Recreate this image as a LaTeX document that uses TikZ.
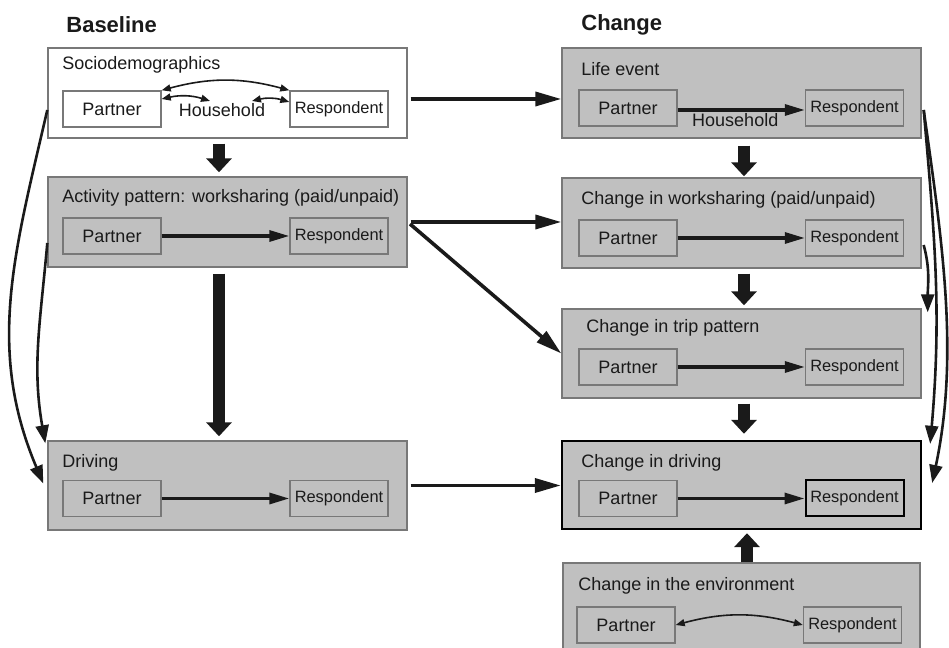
\documentclass[tikz,border=0pt]{standalone}
\usepackage{fontspec}
\setmainfont{Liberation Sans}
\usetikzlibrary{positioning,calc,arrows.meta}

\definecolor{boxgray}{RGB}{192,192,192}
\definecolor{edgegray}{RGB}{120,120,120}
\definecolor{ink}{RGB}{26,26,26}

\tikzset{
  panel/.style={draw=edgegray, line width=0.7pt, fill=boxgray, minimum width=179.5pt, minimum height=45pt, inner sep=0pt},
  inbox/.style={draw=edgegray, line width=0.7pt, minimum width=49pt, minimum height=18pt, inner sep=0pt, text=ink, font=\fontsize{9}{10}\selectfont},
  resp/.style={inbox, font=\fontsize{8.2}{9}\selectfont},
  title/.style={anchor=west, inner sep=0pt, text=ink, font=\fontsize{9}{10}\selectfont},
  heading/.style={anchor=west, inner sep=0pt, text=ink, font=\fontsize{11}{13}\selectfont\bfseries},
  pr/.style={draw=ink, line width=1.6pt, -{Triangle[length=10pt,width=5.5pt]}},
  link/.style={draw=ink, line width=1.8pt, -{Triangle[length=13pt,width=7pt]}, shorten <=1.5pt},
  fat/.style={draw=ink, line width=6pt, -{Triangle[length=7pt,width=12.5pt]}},
  bow/.style={draw=ink, line width=1.3pt, -{Triangle[length=9pt,width=6.5pt]}},
  twin/.style={draw=ink, line width=0.8pt, {Triangle[length=4.5pt,width=3.5pt]}-{Triangle[length=4.5pt,width=3.5pt]}},
}

\begin{document}
\begin{tikzpicture}[x=0.5pt,y=0.5pt]
    \useasboundingbox (0,0) rectangle (949,648);
    \clip (0,0) rectangle (949,648);

    % Column headings
    \node[heading] (hbase) at (66,623) {Baseline};
    \node[heading] (hchange) at (581,623) {Change};

    % Baseline column
    \node[panel, fill=white] (socio) at (227.5,555) {};
    \node[panel] (act) at (227.5,426) {};
    \node[panel, minimum height=44.5pt] (drv) at (227.5,162.5) {};

    \node[title] (tsocio) at (62,583) {Sociodemographics};
    \node[title] (tact) at (62,450) {Activity pattern: worksharing (paid/unpaid)};
    \node[title] (tdrv) at (62,185) {Driving};

    \node[inbox, fill=white] (sp) at (112,539) {Partner};
    \node[resp, fill=white] (sr) at (339,539) {Respondent};
    \node[inbox] (ap) at (112,412) {Partner};
    \node[resp] (ar) at (339,412) {Respondent};
    \node[inbox] (dp) at (112,149.5) {Partner};
    \node[resp] (dr) at (339,149.5) {Respondent};

    % Change column
    \node[panel] (life) at (741.5,555) {};
    \node[panel] (work) at (741.5,425) {};
    \node[panel, minimum height=44.5pt] (trip) at (741.5,294.5) {};
    \node[panel, draw=black, line width=1.2pt, minimum height=44pt] (cdrv) at (741.5,163) {};
    \node[panel, minimum width=178.5pt, minimum height=50pt] (env) at (741.5,35) {};

    \node[title] (tlife) at (581,579) {Life event};
    \node[title] (twork) at (581,448) {Change in worksharing (paid/unpaid)};
    \node[title] (ttrip) at (586,320) {Change in trip pattern};
    \node[title] (tcdrv) at (581,185) {Change in driving};
    \node[title] (tenv) at (578,62) {Change in the environment};

    \node[inbox] (lp) at (628,540) {Partner};
    \node[resp] (lr) at (854.5,540) {Respondent};
    \node[inbox] (wp) at (628,410) {Partner};
    \node[resp] (wr) at (854.5,410) {Respondent};
    \node[inbox] (tp) at (628,281) {Partner};
    \node[resp] (tr) at (854.5,281) {Respondent};
    \node[inbox] (cp) at (628,149.5) {Partner};
    \node[resp, draw=black, line width=1pt] (cr) at (854.5,149.5) {Respondent};
    \node[inbox] (ep) at (626,23) {Partner};
    \node[resp] (er) at (852.5,23) {Respondent};

    % Household links
    \node[title, anchor=center, inner sep=1pt] (hh) at (222,538) {Household};
    \draw[twin] (sp.north east) to[bend left=15] (sr.north west);
    \draw[twin] ([yshift=5pt]sp.east) to[bend left=15] ([xshift=-6pt]hh.north);
    \draw[twin] ([xshift=15pt]hh.north) to[bend left=15] ([yshift=3.5pt]sr.west);
    \draw[twin] (ep.east) to[bend left=15] (er.west);

    % Partner to respondent
    \draw[pr] (ap) -- (ar);
    \draw[pr] (dp) -- (dr);
    \draw[pr] ([yshift=-1pt]lp.east) -- ([yshift=-1pt]lr.west)
        node[midway, below=1pt, title, anchor=north, xshift=-3pt] (hhl) {Household};
    \draw[pr] (wp) -- (wr);
    \draw[pr] (tp) -- (tr);
    \draw[pr] (cp) -- (cr);

    % Baseline to change
    \draw[link] ([yshift=-3pt]socio.east) -- ([yshift=-3pt]life.west);
    \draw[link] (act.east) -- (act.east -| work.west);
    \draw[link] (act.east) -- (trip.west);
    \draw[link] (drv.east) -- (drv.east -| cdrv.west);

    % Block arrows
    \draw[fat, shorten <=2.5pt, shorten >=2pt] ([xshift=-4.25pt]socio.south) -- ([xshift=-4.25pt]act.north);
    \draw[fat, shorten <=3pt, shorten >=2pt] ([xshift=-4.25pt]act.south) -- ([xshift=-4.25pt]drv.north);
    \draw[fat, shorten <=3.5pt, shorten >=0.5pt] ([xshift=1.25pt]life.south) -- ([xshift=1.25pt]work.north);
    \draw[fat, shorten <=2.5pt, shorten >=1.5pt] ([xshift=1.25pt]work.south) -- ([xshift=1.25pt]trip.north);
    \draw[fat, shorten <=2.5pt, shorten >=3pt] ([xshift=1.25pt]trip.south) -- ([xshift=1.25pt]cdrv.north);
    \draw[fat, shorten >=1.5pt] ([xshift=2.75pt]env.north) -- ([xshift=2.75pt]cdrv.south);

    % Side curves, left
    \draw[bow] ([yshift=-8.5pt]socio.west) to[out=257,in=113] ([xshift=-2pt,yshift=1pt]drv.west);
    \draw[bow] ([yshift=-10.5pt]act.west) to[out=265,in=100] ([xshift=-1pt,yshift=-1.5pt]drv.north west);

    % Side curves, right
    \draw[bow] ([xshift=1pt,yshift=-8.5pt]life.east) to[out=278,in=78,looseness=0.9] ([xshift=5pt,yshift=1pt]cdrv.east);
    \draw[bow] ([xshift=1pt,yshift=-8.5pt]life.east) to[out=275,in=85] ([xshift=4pt,yshift=-2pt]cdrv.north east);
    \draw[bow] ([xshift=1pt,yshift=-11pt]work.east) to[out=285,in=90] ([xshift=3pt,yshift=-2pt]trip.north east);
\end{tikzpicture}
\end{document}
